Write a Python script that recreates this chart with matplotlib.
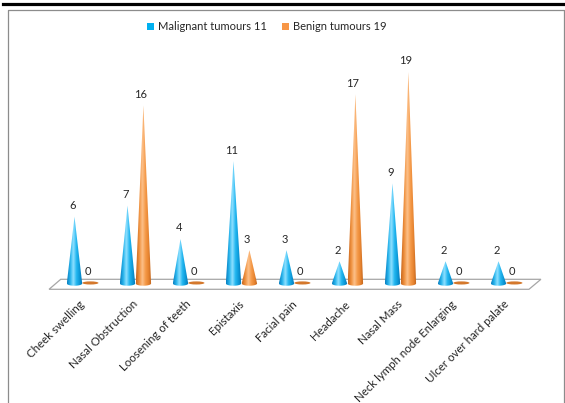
import numpy as np
import matplotlib
matplotlib.use("Agg")
import matplotlib.pyplot as plt
from matplotlib.path import Path
from matplotlib.patches import PathPatch, Patch, Polygon, Ellipse
from matplotlib.colors import LinearSegmentedColormap
from matplotlib.lines import Line2D

categories = ["Cheek swelling", "Nasal Obstruction", "Loosening of teeth", "Epistaxis",
              "Facial pain", "Headache", "Nasal Mass", "Neck lymph node Enlarging",
              "Ulcer over hard palate"]
malignant = [6, 7, 4, 11, 3, 2, 9, 2, 2]
benign = [0, 16, 0, 3, 0, 17, 19, 0, 0]
series_names = ["Malignant tumours 11", "Benign tumours 19"]

plt.rcParams['font.family'] = ['Lato', 'DejaVu Sans']
W, H = 565, 403
fig = plt.figure(figsize=(W / 100, H / 100), dpi=100)
ax = fig.add_axes([0, 0, 1, 1])

# pixel mapping: x px = 74.5 + 53*i ; y px (from top) = 283.5 - 11.13*v
PX_X, X0 = 53.0, 74.5
PX_Y, Y0 = 11.13, 283.5
ax.set_xlim(-X0 / PX_X, (W - X0) / PX_X)
ax.set_ylim(-(H - Y0) / PX_Y, Y0 / PX_Y)
ax.axis('off')

blue_cmap = LinearSegmentedColormap.from_list(
    "b", ["#0a7fc0", "#27b4ec", "#8fe0ff", "#22b6f0", "#0c98d6", "#0670b0"])
orange_cmap = LinearSegmentedColormap.from_list(
    "o", ["#c8681f", "#f0913e", "#fcc08a", "#f59a48", "#e5822f", "#b85e18"])

# floor
floor = Polygon([(-0.26, 0.377), (-0.48, -0.52), (8.575, -0.52), (8.80, 0.377)],
                closed=True, facecolor="white", edgecolor="#a6a6a6", lw=0.9, zorder=1)
ax.add_patch(floor)

hw = 0.145      # half width of cone base (data units)
eh = 0.20       # half height of base ellipse (data units)
off = 0.30      # offset of second series


def cone(cx, v, cmap, flat_color):
    if v == 0:
        e = Ellipse((cx, 0.05), 2 * hw * 1.05, 0.28, facecolor=flat_color,
                    edgecolor="none", zorder=3)
        ax.add_patch(e)
        return 0.1
    t = np.linspace(np.pi, 2 * np.pi, 30)
    arc = np.column_stack([cx + hw * np.cos(t), eh * np.sin(t)])
    verts = np.vstack([[cx, v], arc, [cx, v]])
    path = Path(verts, closed=True)
    patch = PathPatch(path, facecolor="none", edgecolor="none")
    ax.add_patch(patch)
    grad = np.linspace(0, 1, 64).reshape(1, -1)
    im = ax.imshow(grad, cmap=cmap, extent=[cx - hw, cx + hw, -eh, v],
                   aspect='auto', interpolation='bilinear', zorder=3)
    im.set_clip_path(patch)
    return v


x = np.arange(len(categories))
for i in range(len(categories)):
    top_m = cone(x[i], malignant[i], blue_cmap, "#0c98d6")
    ax.annotate(str(malignant[i]), (x[i] - 0.03, top_m), xytext=(0, 4),
                textcoords='offset points', ha='center', va='bottom',
                fontsize=8, color="#262626", zorder=5)
    top_b = cone(x[i] + off, benign[i], orange_cmap, "#d4782c")
    ax.annotate(str(benign[i]), (x[i] + off - 0.05, top_b), xytext=(0, 4),
                textcoords='offset points', ha='center', va='bottom',
                fontsize=8, color="#262626", zorder=5)

for i, c in enumerate(categories):
    ax.text(x[i] + 0.09, -1.35, c, rotation=45, rotation_mode='anchor',
            ha='right', va='top', fontsize=8.3, color="#262626")

# legend
handles = [Patch(facecolor="#00b0f0", edgecolor="none"),
           Patch(facecolor="#f79646", edgecolor="none")]
fig.legend(handles, series_names, loc='center', bbox_to_anchor=(0.472, 1 - 27 / H),
           ncol=2, frameon=False, fontsize=8, handlelength=0.65, handleheight=0.65,
           handletextpad=0.35, columnspacing=1.3, labelcolor="#262626")

# frame and top rule
fig.add_artist(Line2D([3 / W, 1], [1 - 3.5 / H, 1 - 3.5 / H], color="black", lw=2.3))
fig.add_artist(Line2D([7.5 / W, 7.5 / W, 563.5 / W, 563.5 / W],
                      [0, 1 - 9.5 / H, 1 - 9.5 / H, 0], color="#8c8c8c", lw=0.9))

fig.savefig("out.png", dpi=100)
